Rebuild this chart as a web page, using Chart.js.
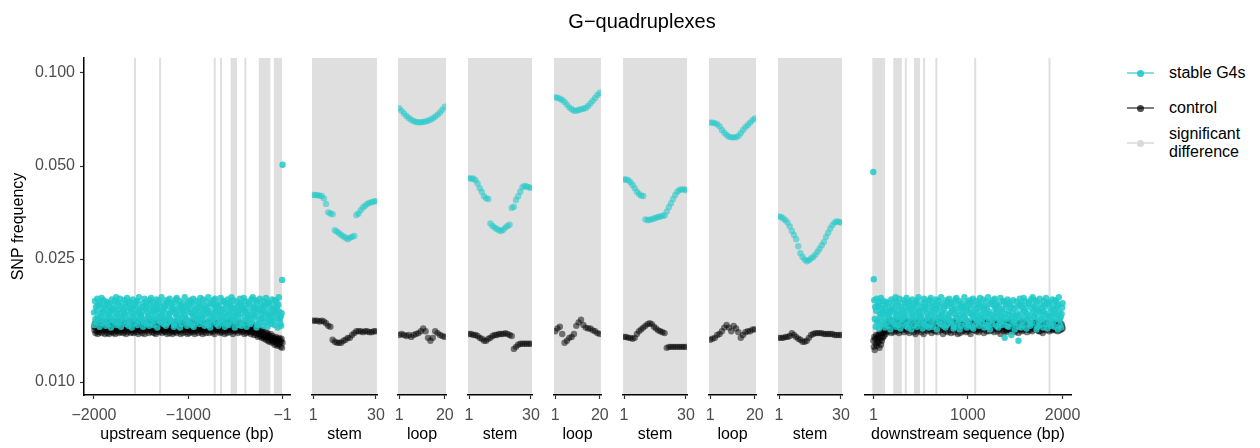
<!DOCTYPE html>
<html lang="en">
<head>
<meta charset="utf-8">
<title>G-quadruplexes</title>
<script src="https://cdn.jsdelivr.net/npm/chart.js@4.4.1/dist/chart.umd.min.js"></script>
<style>
  html, body { margin: 0; padding: 0; background: #fff; }
  #fig { position: relative; width: 1260px; height: 448px; overflow: hidden;
         font-family: "Liberation Sans", Arial, Helvetica, sans-serif; }
  #fig canvas { position: absolute; top: 0; }
  #title { position: absolute; left: 542px; width: 200px; top: 9px; text-align: center;
           font-size: 20px; line-height: 24px; color: #000; }
  .key { position: absolute; left: 1127px; width: 27px; height: 0; }
  .key .ln { position: absolute; left: 0; top: -1px; width: 27px; height: 2px; }
  .key .dt { position: absolute; left: 10px; top: -3.5px; width: 7px; height: 7px; border-radius: 50%; }
  .lab { position: absolute; left: 1169px; font-size: 16px; line-height: 18px; color: #000; }
</style>
</head>
<body>
<div id="fig">
  <canvas id="p1"></canvas><canvas id="p2"></canvas><canvas id="p3"></canvas>
  <canvas id="p4"></canvas><canvas id="p5"></canvas><canvas id="p6"></canvas>
  <canvas id="p7"></canvas><canvas id="p8"></canvas><canvas id="p9"></canvas>
  <div id="title">G&minus;quadruplexes</div>

  <div class="key" style="top:73px"><div class="ln" style="background:rgba(32,201,201,0.55)"></div><div class="dt" style="background:rgba(32,201,201,0.9)"></div></div>
  <div class="lab" style="top:64px">stable G4s</div>
  <div class="key" style="top:108px"><div class="ln" style="background:rgba(0,0,0,0.5)"></div><div class="dt" style="background:rgba(0,0,0,0.7)"></div></div>
  <div class="lab" style="top:99px">control</div>
  <div class="key" style="top:143px"><div class="ln" style="background:#e2e2e2"></div><div class="dt" style="background:#dadada"></div></div>
  <div class="lab" style="top:125px">significant<br>difference</div>
</div>

<script>
// ---- data (SNP frequency per position) ----

// y axis
const yTicks = [0.01, 0.025, 0.05, 0.1];

// x tick labels per panel type
const upTicks = [-2000, -1000, -1];
const downTicks = [1, 1000, 2000];
const stemTicks = [1, 30];
const loopTicks = [1, 20];

// upstream flank, ~every 5 bp from -2000 to -1
const upG4 = [
  .0168,.0153,.0183,.0160,.0175,.0156,.0170,.0186,.0162,.0177,
  .0159,.0178,.0151,.0181,.0166,.0163,.0187,.0155,.0173,.0169,
  .0184,.0157,.0167,.0176,.0161,.0152,.0179,.0182,.0171,.0158,
  .0154,.0165,.0180,.0164,.0174,.0170,.0150,.0160,.0185,.0172,
  .0177,.0158,.0168,.0156,.0183,.0173,.0162,.0188,.0153,.0166,
  .0171,.0181,.0155,.0178,.0159,.0186,.0167,.0151,.0175,.0163,
  .0161,.0157,.0172,.0169,.0184,.0164,.0180,.0165,.0154,.0176,
  .0187,.0170,.0158,.0152,.0179,.0156,.0182,.0173,.0162,.0168,
  .0150,.0174,.0185,.0166,.0160,.0177,.0155,.0163,.0171,.0181,
  .0178,.0183,.0153,.0159,.0169,.0188,.0167,.0172,.0157,.0164,
  .0165,.0162,.0175,.0180,.0151,.0170,.0156,.0186,.0158,.0173,
  .0182,.0176,.0154,.0168,.0161,.0164,.0179,.0152,.0184,.0171,
  .0155,.0187,.0166,.0160,.0174,.0181,.0153,.0169,.0177,.0163,
  .0158,.0171,.0185,.0172,.0150,.0178,.0162,.0183,.0167,.0157,
  .0175,.0156,.0164,.0188,.0165,.0170,.0180,.0154,.0159,.0173,
  .0168,.0177,.0152,.0161,.0184,.0155,.0176,.0182,.0163,.0166,
  .0186,.0160,.0169,.0157,.0179,.0158,.0171,.0174,.0181,.0151,
  .0153,.0167,.0172,.0185,.0164,.0187,.0156,.0170,.0162,.0178,
  .0159,.0183,.0150,.0166,.0175,.0154,.0173,.0161,.0180,.0169,
  .0176,.0165,.0188,.0163,.0157,.0171,.0160,.0152,.0174,.0182,
  .0155,.0179,.0158,.0168,.0184,.0172,.0181,.0167,.0153,.0164,
  .0186,.0151,.0177,.0162,.0170,.0156,.0165,.0183,.0173,.0160,
  .0169,.0159,.0180,.0154,.0175,.0187,.0163,.0178,.0166,.0157,
  .0161,.0185,.0171,.0172,.0152,.0164,.0176,.0155,.0182,.0168,
  .0174,.0153,.0188,.0167,.0158,.0170,.0150,.0162,.0179,.0181,
  .0156,.0166,.0160,.0184,.0177,.0163,.0186,.0173,.0169,.0154,
  .0180,.0175,.0168,.0152,.0161,.0178,.0157,.0165,.0187,.0159,
  .0171,.0155,.0172,.0164,.0183,.0182,.0158,.0151,.0167,.0176,
  .0162,.0179,.0154,.0185,.0170,.0153,.0166,.0181,.0160,.0174,
  .0177,.0188,.0163,.0169,.0156,.0184,.0173,.0159,.0150,.0165,
  .0157,.0161,.0182,.0175,.0168,.0164,.0170,.0153,.0178,.0186,
  .0166,.0180,.0152,.0158,.0176,.0172,.0155,.0187,.0171,.0163,
  .0183,.0169,.0174,.0151,.0160,.0167,.0162,.0179,.0181,.0156,
  .0159,.0154,.0165,.0185,.0173,.0157,.0188,.0170,.0177,.0164,
  .0175,.0163,.0184,.0168,.0150,.0182,.0153,.0172,.0158,.0171,
  .0155,.0186,.0178,.0161,.0166,.0160,.0174,.0169,.0152,.0183,
  .0170,.0176,.0162,.0156,.0187,.0179,.0167,.0151,.0180,.0164,
  .0181,.0157,.0165,.0173,.0159,.0154,.0163,.0185,.0171,.0177,
  .0158,.0168,.0153,.0184,.0172,.0166,.0182,.0175,.0161,.0150,
  .0178,.0188,.0169,.0160,.0155,.0163,.0152,.0167,.0214,.0505
];
const upCtrl = [
  .0151,.0147,.0155,.0144,.0150,.0157,.0146,.0153,.0143,.0149,
  .0154,.0145,.0151,.0158,.0147,.0152,.0144,.0156,.0148,.0153,
  .0146,.0153,.0149,.0143,.0156,.0150,.0147,.0158,.0144,.0151,
  .0148,.0155,.0143,.0152,.0146,.0157,.0150,.0145,.0154,.0149,
  .0156,.0144,.0151,.0147,.0154,.0143,.0153,.0149,.0146,.0158,
  .0150,.0146,.0155,.0144,.0152,.0148,.0154,.0145,.0157,.0151,
  .0147,.0153,.0144,.0156,.0149,.0146,.0155,.0150,.0143,.0152,
  .0155,.0148,.0145,.0154,.0150,.0158,.0147,.0152,.0144,.0149,
  .0153,.0146,.0156,.0151,.0144,.0155,.0148,.0147,.0157,.0150,
  .0145,.0152,.0149,.0155,.0143,.0153,.0147,.0154,.0150,.0146,
  .0157,.0151,.0144,.0149,.0154,.0147,.0152,.0143,.0156,.0148,
  .0150,.0155,.0146,.0153,.0148,.0157,.0144,.0151,.0149,.0154,
  .0147,.0152,.0158,.0145,.0150,.0148,.0155,.0144,.0153,.0147,
  .0154,.0143,.0151,.0156,.0146,.0152,.0149,.0157,.0145,.0150,
  .0148,.0153,.0147,.0155,.0144,.0150,.0158,.0147,.0152,.0146,
  .0151,.0145,.0156,.0149,.0153,.0143,.0150,.0147,.0154,.0148,
  .0144,.0152,.0148,.0150,.0146,.0155,.0143,.0148,.0151,.0145,
  .0149,.0154,.0146,.0151,.0157,.0144,.0150,.0153,.0147,.0152,
  .0146,.0150,.0156,.0143,.0149,.0152,.0147,.0155,.0144,.0151,
  .0153,.0147,.0150,.0158,.0145,.0151,.0148,.0154,.0143,.0149,
  .0150,.0156,.0144,.0152,.0148,.0146,.0153,.0149,.0157,.0145,
  .0147,.0151,.0154,.0143,.0150,.0155,.0146,.0152,.0148,.0153,
  .0156,.0144,.0149,.0147,.0153,.0150,.0158,.0145,.0151,.0148,
  .0143,.0152,.0148,.0155,.0146,.0150,.0154,.0144,.0149,.0156,
  .0151,.0147,.0153,.0149,.0144,.0157,.0148,.0152,.0146,.0150,
  .0154,.0145,.0151,.0148,.0156,.0143,.0150,.0153,.0147,.0149,
  .0148,.0155,.0146,.0152,.0150,.0147,.0157,.0144,.0151,.0153,
  .0145,.0150,.0154,.0147,.0151,.0156,.0143,.0149,.0153,.0146,
  .0152,.0148,.0144,.0155,.0149,.0147,.0151,.0158,.0145,.0150,
  .0149,.0153,.0147,.0151,.0143,.0154,.0148,.0146,.0152,.0150,
  .0155,.0146,.0150,.0148,.0153,.0144,.0151,.0147,.0156,.0149,
  .0147,.0152,.0145,.0154,.0149,.0151,.0146,.0153,.0143,.0150,
  .0150,.0147,.0155,.0144,.0149,.0152,.0146,.0148,.0151,.0145,
  .0146,.0150,.0143,.0151,.0147,.0154,.0145,.0148,.0142,.0149,
  .0144,.0148,.0151,.0145,.0142,.0149,.0146,.0140,.0147,.0143,
  .0145,.0141,.0148,.0143,.0146,.0139,.0144,.0147,.0140,.0142,
  .0138,.0143,.0140,.0145,.0137,.0141,.0139,.0144,.0136,.0142,
  .0140,.0135,.0141,.0138,.0143,.0136,.0139,.0134,.0141,.0137,
  .0135,.0139,.0132,.0138,.0136,.0140,.0133,.0137,.0131,.0138,
  .0136,.0132,.0139,.0134,.0137,.0130,.0135,.0138,.0129,.0134
];

// G4 motif: stems (30 positions) and loops (20 positions)
const stem1G4 = [.0403,.0403,.0402,.0401,.0400,.0393,.0377,.0354,.0351,.0349,.0310,.0307,.0303,.0299,.0296,
                 .0293,.0290,.0293,.0295,.0297,.0347,.0351,.0360,.0367,.0372,.0377,.0380,.0382,.0384,.0385];
const stem1Ctrl = [.0158,.0158,.0158,.0157,.0158,.0157,.0155,.0152,.0151,.0137,.0135,.0134,.0134,.0134,.0136,
                   .0137,.0139,.0139,.0142,.0144,.0146,.0146,.0146,.0145,.0146,.0146,.0145,.0145,.0146,.0146];
const loop1G4 = [.0769,.0754,.0740,.0726,.0715,.0706,.0699,.0694,.0693,.0693,
                 .0694,.0697,.0701,.0706,.0713,.0722,.0733,.0745,.0760,.0778];
const loop1Ctrl = [.0142,.0143,.0142,.0141,.0142,.0140,.0142,.0143,.0144,.0146,
                   .0149,.0146,.0139,.0136,.0139,.0146,.0144,.0142,.0141,.0140];
const stem2G4 = [.0456,.0456,.0455,.0450,.0439,.0424,.0412,.0399,.0393,.0391,.0326,.0320,.0316,.0313,.0310,
                 .0308,.0311,.0316,.0320,.0323,.0366,.0369,.0388,.0399,.0413,.0427,.0431,.0429,.0427,.0425];
const stem2Ctrl = [.0143,.0143,.0142,.0142,.0141,.0139,.0138,.0136,.0136,.0138,.0139,.0141,.0142,.0142,.0143,
                   .0143,.0143,.0144,.0143,.0142,.0141,.0128,.0130,.0132,.0133,.0133,.0133,.0133,.0133,.0133];
const loop2G4 = [.0834,.0832,.0826,.0818,.0806,.0790,.0774,.0763,.0755,.0755,
                 .0759,.0763,.0766,.0770,.0782,.0797,.0813,.0830,.0849,.0863];
const loop2Ctrl = [.0146,.0149,.0151,.0143,.0134,.0136,.0139,.0140,.0143,.0152,
                   .0156,.0159,.0153,.0150,.0149,.0149,.0147,.0146,.0144,.0143];
const stem3G4 = [.0452,.0452,.0450,.0443,.0434,.0424,.0413,.0406,.0401,.0400,.0336,.0334,.0335,.0336,.0338,
                 .0340,.0342,.0343,.0345,.0346,.0356,.0368,.0379,.0391,.0403,.0413,.0418,.0420,.0420,.0418];
const stem3Ctrl = [.0140,.0140,.0139,.0139,.0138,.0139,.0143,.0146,.0148,.0150,.0152,.0154,.0155,.0154,.0151,
                   .0149,.0147,.0146,.0145,.0144,.0129,.0130,.0130,.0130,.0130,.0130,.0130,.0130,.0130,.0130];
const loop3G4 = [.0691,.0691,.0688,.0683,.0672,.0654,.0641,.0630,.0622,.0619,
                 .0619,.0619,.0625,.0638,.0654,.0668,.0679,.0691,.0704,.0713];
const loop3Ctrl = [.0137,.0138,.0139,.0142,.0143,.0146,.0150,.0153,.0150,.0146,
                   .0152,.0149,.0145,.0139,.0142,.0145,.0146,.0146,.0148,.0148];
const stem4G4 = [.0343,.0342,.0338,.0334,.0328,.0319,.0308,.0299,.0290,.0275,.0261,.0254,.0249,.0246,.0248,
                 .0251,.0254,.0258,.0264,.0270,.0277,.0284,.0295,.0304,.0314,.0322,.0328,.0331,.0330,.0328];
const stem4Ctrl = [.0139,.0139,.0139,.0140,.0140,.0141,.0144,.0142,.0140,.0138,.0137,.0135,.0135,.0136,.0139,
                   .0142,.0143,.0144,.0144,.0144,.0144,.0143,.0143,.0143,.0143,.0143,.0142,.0142,.0142,.0142];

// downstream flank, ~every 5 bp from 1 to 2000
const downG4 = [
  .0478,.0215,.0184,.0160,.0175,.0151,.0170,.0186,.0157,.0177,
  .0158,.0176,.0149,.0181,.0166,.0162,.0187,.0153,.0173,.0168,
  .0183,.0155,.0167,.0174,.0160,.0150,.0178,.0182,.0169,.0157,
  .0152,.0165,.0180,.0163,.0172,.0170,.0148,.0159,.0185,.0171,
  .0176,.0156,.0168,.0154,.0182,.0173,.0161,.0188,.0151,.0165,
  .0169,.0181,.0153,.0177,.0158,.0186,.0166,.0149,.0175,.0162,
  .0160,.0155,.0171,.0168,.0184,.0163,.0180,.0164,.0152,.0176,
  .0187,.0170,.0157,.0150,.0179,.0154,.0182,.0172,.0161,.0167,
  .0148,.0174,.0185,.0165,.0159,.0177,.0153,.0162,.0170,.0181,
  .0178,.0183,.0151,.0158,.0169,.0188,.0166,.0171,.0155,.0163,
  .0164,.0161,.0175,.0180,.0149,.0170,.0154,.0186,.0157,.0173,
  .0182,.0176,.0152,.0167,.0160,.0163,.0179,.0150,.0184,.0170,
  .0153,.0187,.0165,.0159,.0174,.0181,.0151,.0168,.0177,.0162,
  .0157,.0171,.0185,.0172,.0148,.0178,.0161,.0183,.0166,.0155,
  .0175,.0154,.0163,.0188,.0164,.0169,.0180,.0152,.0158,.0173,
  .0167,.0177,.0150,.0160,.0184,.0153,.0176,.0182,.0162,.0165,
  .0186,.0159,.0168,.0155,.0179,.0157,.0170,.0174,.0181,.0149,
  .0151,.0166,.0172,.0185,.0163,.0187,.0154,.0169,.0161,.0178,
  .0158,.0183,.0148,.0165,.0175,.0152,.0173,.0160,.0180,.0168,
  .0176,.0164,.0188,.0162,.0155,.0170,.0159,.0150,.0174,.0182,
  .0153,.0179,.0157,.0167,.0184,.0172,.0181,.0166,.0151,.0163,
  .0186,.0149,.0177,.0161,.0169,.0154,.0164,.0183,.0173,.0159,
  .0168,.0158,.0180,.0152,.0175,.0187,.0162,.0178,.0165,.0155,
  .0160,.0185,.0170,.0172,.0150,.0163,.0176,.0153,.0182,.0167,
  .0174,.0151,.0188,.0166,.0157,.0169,.0148,.0161,.0179,.0181,
  .0154,.0165,.0159,.0184,.0177,.0162,.0186,.0173,.0168,.0152,
  .0180,.0175,.0167,.0150,.0160,.0178,.0155,.0164,.0187,.0158,
  .0170,.0153,.0172,.0163,.0183,.0182,.0157,.0139,.0166,.0176,
  .0161,.0179,.0152,.0185,.0169,.0151,.0165,.0181,.0159,.0174,
  .0177,.0142,.0162,.0168,.0154,.0184,.0173,.0158,.0148,.0164,
  .0155,.0160,.0182,.0175,.0167,.0163,.0136,.0151,.0178,.0186,
  .0165,.0180,.0150,.0157,.0176,.0172,.0153,.0187,.0170,.0162,
  .0183,.0168,.0174,.0149,.0159,.0166,.0161,.0179,.0181,.0154,
  .0158,.0152,.0164,.0185,.0173,.0155,.0188,.0169,.0177,.0163,
  .0175,.0162,.0184,.0167,.0148,.0182,.0151,.0172,.0157,.0170,
  .0153,.0186,.0178,.0160,.0165,.0159,.0174,.0168,.0150,.0183,
  .0169,.0176,.0161,.0154,.0187,.0179,.0166,.0149,.0180,.0163,
  .0181,.0155,.0164,.0173,.0158,.0152,.0162,.0185,.0170,.0177,
  .0157,.0167,.0151,.0184,.0172,.0165,.0182,.0175,.0160,.0148,
  .0178,.0188,.0168,.0159,.0153,.0162,.0150,.0166,.0174,.0180
];
const downCtrl = [
  .0136,.0130,.0140,.0127,.0138,.0133,.0142,.0131,.0139,.0135,
  .0141,.0134,.0143,.0129,.0137,.0144,.0132,.0140,.0136,.0145,
  .0139,.0144,.0148,.0141,.0147,.0151,.0143,.0150,.0145,.0153,
  .0149,.0154,.0146,.0157,.0151,.0148,.0158,.0150,.0144,.0153,
  .0156,.0148,.0152,.0145,.0155,.0150,.0154,.0147,.0158,.0151,
  .0146,.0155,.0149,.0157,.0144,.0152,.0148,.0156,.0153,.0150,
  .0154,.0147,.0156,.0151,.0145,.0155,.0149,.0152,.0158,.0148,
  .0151,.0156,.0146,.0153,.0157,.0150,.0144,.0155,.0149,.0152,
  .0147,.0154,.0158,.0148,.0152,.0145,.0156,.0151,.0155,.0143,
  .0157,.0149,.0153,.0146,.0155,.0151,.0148,.0157,.0152,.0154,
  .0150,.0145,.0156,.0152,.0148,.0154,.0143,.0153,.0149,.0157,
  .0152,.0157,.0147,.0154,.0150,.0146,.0155,.0151,.0158,.0148,
  .0155,.0149,.0153,.0144,.0157,.0152,.0147,.0156,.0150,.0154,
  .0146,.0155,.0151,.0158,.0148,.0153,.0145,.0152,.0155,.0149,
  .0156,.0150,.0154,.0147,.0152,.0158,.0148,.0143,.0155,.0151,
  .0149,.0154,.0146,.0157,.0153,.0150,.0156,.0145,.0152,.0154,
  .0151,.0147,.0155,.0152,.0144,.0157,.0150,.0154,.0148,.0153,
  .0157,.0145,.0152,.0149,.0155,.0151,.0147,.0154,.0143,.0150,
  .0153,.0148,.0156,.0144,.0151,.0154,.0149,.0152,.0146,.0154,
  .0150,.0155,.0147,.0153,.0149,.0145,.0157,.0151,.0154,.0148,
  .0152,.0146,.0154,.0150,.0156,.0143,.0151,.0154,.0148,.0153,
  .0155,.0149,.0152,.0147,.0158,.0150,.0154,.0146,.0151,.0156,
  .0148,.0153,.0145,.0155,.0150,.0157,.0147,.0152,.0155,.0149,
  .0154,.0151,.0156,.0144,.0152,.0148,.0155,.0150,.0158,.0146,
  .0150,.0155,.0149,.0153,.0146,.0154,.0151,.0157,.0147,.0152,
  .0155,.0147,.0152,.0158,.0150,.0145,.0153,.0149,.0155,.0151,
  .0149,.0154,.0146,.0151,.0156,.0152,.0148,.0155,.0143,.0153,
  .0157,.0150,.0155,.0148,.0152,.0146,.0156,.0151,.0154,.0147,
  .0151,.0145,.0153,.0149,.0155,.0150,.0147,.0158,.0152,.0154,
  .0146,.0152,.0157,.0151,.0148,.0154,.0149,.0153,.0145,.0150,
  .0153,.0156,.0147,.0155,.0150,.0152,.0144,.0155,.0149,.0151,
  .0148,.0151,.0154,.0146,.0158,.0149,.0153,.0147,.0155,.0150,
  .0155,.0149,.0152,.0157,.0145,.0151,.0154,.0148,.0152,.0153,
  .0147,.0153,.0150,.0155,.0151,.0146,.0154,.0149,.0156,.0152,
  .0151,.0148,.0155,.0149,.0153,.0157,.0147,.0152,.0150,.0146,
  .0154,.0150,.0146,.0153,.0149,.0155,.0151,.0144,.0152,.0148,
  .0149,.0155,.0152,.0147,.0154,.0150,.0156,.0148,.0151,.0153,
  .0152,.0146,.0150,.0155,.0148,.0153,.0149,.0151,.0147,.0154,
  .0150,.0154,.0148,.0152,.0156,.0147,.0151,.0149,.0153,.0146,
  .0153,.0149,.0152,.0147,.0155,.0150,.0148,.0154,.0151,.0149
];

// positions (bp) where the two groups differ significantly
const upSig = [[-1566,-1566],[-1299,-1299],[-720,-720],[-653,-653],[-541,-494],[-395,-395],[-242,-141],[-83,-18]];
const downSig = [[1,115],[222,291],[344,344],[441,484],[537,537],[667,667],[1077,1077],[1862,1862]];

// x positions for each series
const spread = (n, from, to) => Array.from({length: n}, (_, k) => Math.round(from + k * (to - from) / (n - 1)));
const upPos = spread(upG4.length, -2000, -1);
const downPos = spread(downG4.length, 1, 2000);
const stemPos = Array.from({length: 30}, (_, i) => i + 1);
const loopPos = Array.from({length: 20}, (_, i) => i + 1);

// ---- styling / layout ----
const FONT = '"Liberation Sans", Arial, Helvetica, sans-serif';
Chart.defaults.font.family = FONT;
const G4_COL = 'rgba(32,201,201,0.55)';
const G4_COL_DENSE = 'rgba(32,201,201,0.85)';   // flanks: fewer points stand in for a solid band
const CTRL_COL = 'rgba(0,0,0,0.5)';
const SIG_GREY = '#dfdfdf';
const TICK_GREY = '#4d4d4d';
const PAD = 30;              // room around each panel for edge tick labels
const PLOT_TOP = 58, AXIS_H = 53, H = 448;
const Y_MIN = 0.00908, Y_MAX = 0.1118;

const fmtX = v => String(v).replace('-', '\u2212');

// grey background: whole panel, or individual significant positions
const shading = {
  id: 'shading',
  beforeDraw(chart, args, opts) {
    const { ctx, chartArea: a } = chart;
    const x = chart.scales.x;
    ctx.save();
    ctx.fillStyle = SIG_GREY;
    if (opts.full) ctx.fillRect(a.left, a.top, a.right - a.left, a.bottom - a.top);
    for (const [s, e] of (opts.ranges || [])) {
      const x1 = x.getPixelForValue(s) - 1;
      const x2 = x.getPixelForValue(e) + 1;
      ctx.fillRect(x1, a.top, x2 - x1, a.bottom - a.top);
    }
    ctx.restore();
  }
};

const stem = (id, L, R, g4, ctrl) => ({ id, L, R, min: 0.5, max: 30.5, ticks: stemTicks, title: 'stem', pos: stemPos, g4, ctrl, full: true });
const loop = (id, L, R, g4, ctrl) => ({ id, L, R, min: 0.5, max: 20.5, ticks: loopTicks, title: 'loop', pos: loopPos, g4, ctrl, full: true });

const panels = [
  { id: 'p1', L: 84, R: 290, min: -2106, max: 78, ticks: upTicks, title: 'upstream sequence (bp)',
    pos: upPos, g4: upG4, ctrl: upCtrl, sig: upSig, yAxis: true, dense: true },
  stem('p2', 312, 377, stem1G4, stem1Ctrl),
  loop('p3', 398, 446, loop1G4, loop1Ctrl),
  stem('p4', 468, 532, stem2G4, stem2Ctrl),
  loop('p5', 554, 601, loop2G4, loop2Ctrl),
  stem('p6', 623, 687, stem3G4, stem3Ctrl),
  loop('p7', 709, 756, loop3G4, loop3Ctrl),
  stem('p8', 778, 842, stem4G4, stem4Ctrl),
  { id: 'p9', L: 865, R: 1071, min: -87, max: 2089, ticks: downTicks, title: 'downstream sequence (bp)',
    pos: downPos, g4: downG4, ctrl: downCtrl, sig: downSig, dense: true }
];

function buildPanel(p) {
  const canvas = document.getElementById(p.id);
  const left = p.yAxis ? 0 : p.L - PAD;
  canvas.width = p.R + PAD - left;
  canvas.height = H;
  canvas.style.left = left + 'px';

  const pts = vals => p.pos.map((x, i) => ({ x, y: vals[i] }));

  const yScale = {
    type: 'logarithmic', bounds: 'data', min: Y_MIN, max: Y_MAX, display: !!p.yAxis,
    afterBuildTicks: s => { s.ticks = yTicks.map(v => ({ value: v })); },
    ticks: { autoSkip: false, padding: 5, color: TICK_GREY, font: { size: 16 }, callback: v => v.toFixed(3) },
    grid: { display: true, drawOnChartArea: false, drawTicks: true, tickLength: 4, tickColor: '#333', tickWidth: 1.2 },
    border: { display: true, color: '#000', width: 1.5 },
    title: { display: true, text: 'SNP frequency', color: '#000', font: { size: 16 }, padding: { top: 9, bottom: 0 } }
  };
  if (p.yAxis) yScale.afterFit = s => { s.width = p.L; };

  new Chart(canvas, {
    type: 'scatter',
    data: {
      datasets: [
        { label: 'stable G4s', data: pts(p.g4), backgroundColor: p.dense ? G4_COL_DENSE : G4_COL,
          borderWidth: 0, pointRadius: 3.2, clip: 0, order: 0 },
        { label: 'control', data: pts(p.ctrl), backgroundColor: CTRL_COL,
          borderWidth: 0, pointRadius: 3.2, clip: 0, order: 1 }
      ]
    },
    options: {
      responsive: false,
      animation: false,
      events: [],
      layout: { padding: { left: p.yAxis ? 0 : PAD, right: PAD, top: PLOT_TOP, bottom: 0 } },
      plugins: {
        legend: { display: false },
        tooltip: { enabled: false },
        shading: { full: !!p.full, ranges: p.sig || [] }
      },
      scales: {
        x: {
          type: 'linear', bounds: 'data', min: p.min, max: p.max,
          afterBuildTicks: s => { s.ticks = p.ticks.map(v => ({ value: v })); },
          afterFit: s => { s.height = AXIS_H; },
          ticks: { autoSkip: false, maxRotation: 0, padding: 7, color: TICK_GREY, font: { size: 16 }, callback: v => fmtX(v) },
          grid: { display: true, drawOnChartArea: false, drawTicks: true, tickLength: 4, tickColor: '#333', tickWidth: 1.2 },
          border: { display: true, color: '#000', width: 1.5 },
          title: { display: true, text: p.title, color: '#000', font: { size: 16 }, padding: { top: 0, bottom: 4 } }
        },
        y: yScale
      }
    },
    plugins: [shading]
  });
}

panels.forEach(buildPanel);
</script>
</body>
</html>
